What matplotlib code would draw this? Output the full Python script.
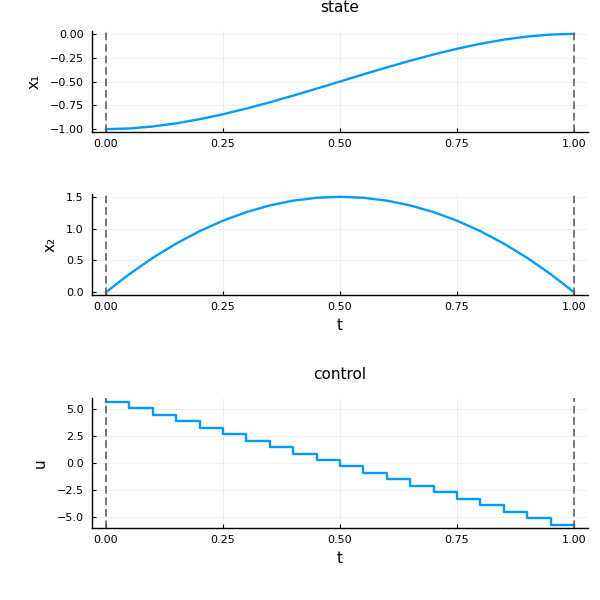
import matplotlib
matplotlib.use("Agg")
import matplotlib.pyplot as plt

t = [0.0, 0.05, 0.1, 0.15, 0.2, 0.25, 0.3, 0.35, 0.4, 0.45, 0.5,
     0.55, 0.6, 0.65, 0.7, 0.75, 0.8, 0.85, 0.9, 0.95, 1.0]
x1 = [-1.0, -0.99275, -0.972, -0.93925, -0.896, -0.84375, -0.784, -0.71825,
      -0.648, -0.57475, -0.5, -0.42525, -0.352, -0.28175, -0.216, -0.15625,
      -0.104, -0.06075, -0.028, -0.00725, 0.0]
x2 = [0.0, 0.285, 0.54, 0.765, 0.96, 1.125, 1.26, 1.365, 1.44, 1.485, 1.5,
      1.485, 1.44, 1.365, 1.26, 1.125, 0.96, 0.765, 0.54, 0.285, 0.0]
# control is piecewise constant, last value repeated to close the final step
u = [5.7, 5.1, 4.5, 3.9, 3.3, 2.7, 2.1, 1.5, 0.9, 0.3, -0.3,
     -0.9, -1.5, -2.1, -2.7, -3.3, -3.9, -4.5, -5.1, -5.7, -5.7]

xticks = [0.0, 0.25, 0.5, 0.75, 1.0]
x1_ticks = [0.0, -0.25, -0.5, -0.75, -1.0]
x2_ticks = [0.0, 0.5, 1.0, 1.5]
u_ticks = [5.0, 2.5, 0.0, -2.5, -5.0]

blue = "#009AFA"
fig = plt.figure(figsize=(6, 6), dpi=100)

def setup(ax, lo, hi, yt):
    pad = 0.03 * (hi - lo)
    ax.set_ylim(lo - pad, hi + pad)
    ax.set_xlim(-0.03, 1.03)
    ax.set_xticks(xticks)
    ax.set_yticks(yt)
    for s in ["top", "right"]:
        ax.spines[s].set_visible(False)
    for s in ["left", "bottom"]:
        ax.spines[s].set_linewidth(1.0)
    ax.tick_params(direction="in", length=3, labelsize=8, width=0.8)
    ax.tick_params(axis="y", pad=6)
    ax.tick_params(axis="x", pad=5)
    ax.grid(True, color="black", alpha=0.07, linewidth=0.6)
    ax.set_axisbelow(True)
    for v in [0.0, 1.0]:
        ax.axvline(v, color="#555555", linestyle=(0, (5, 2.5)), linewidth=1.1)

ax1 = fig.add_axes([0.1533, 0.78, 0.8267, 0.1683])
ax1.plot(t, x1, color=blue, linewidth=1.7)
setup(ax1, -1.0, 0.0, x1_ticks)
ax1.set_ylabel("x₁", fontsize=11, labelpad=6)
ax1.set_title("state", fontsize=11, pad=14)

ax2 = fig.add_axes([0.1533, 0.5083, 0.8267, 0.1684])
ax2.plot(t, x2, color=blue, linewidth=1.7)
setup(ax2, 0.0, 1.5, x2_ticks)
ax2.set_ylabel("x₂", fontsize=11, labelpad=6)
ax2.set_xlabel("t", fontsize=11)

ax3 = fig.add_axes([0.1533, 0.1192, 0.8267, 0.2175])
ax3.step(t, u, where="post", color=blue, linewidth=1.7)
setup(ax3, -5.7, 5.7, u_ticks)
ax3.set_ylabel("u", fontsize=11, labelpad=6)
ax3.set_xlabel("t", fontsize=11)
ax3.set_title("control", fontsize=11, pad=14)

fig.savefig("out.png", dpi=100)
